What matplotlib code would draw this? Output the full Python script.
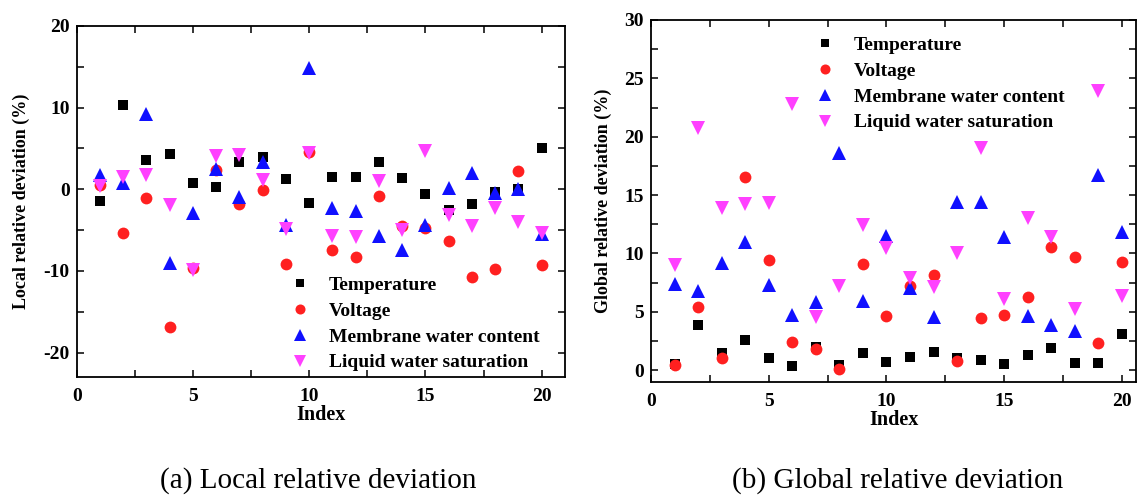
import matplotlib
matplotlib.use("Agg")
import matplotlib.pyplot as plt
from matplotlib.ticker import MultipleLocator

plt.rcParams['font.family'] = ['Liberation Serif', 'DejaVu Serif']
plt.rcParams['axes.unicode_minus'] = False

index = list(range(1, 21))
series_names = ["Temperature", "Voltage", "Membrane water content", "Liquid water saturation"]

# (a) Local relative deviation (%)
local_temperature = [-1.4, 10.3, 3.6, 4.3, 0.8, 0.3, 3.4, 4.0, 1.3, -1.7,
                     1.5, 1.5, 3.3, 1.4, -0.6, -2.5, -1.8, -0.3, 0.0, 5.1]
local_voltage = [0.5, -5.4, -1.1, -16.9, -9.6, 2.3, -1.8, -0.1, -9.2, 4.6,
                 -7.4, -8.3, -0.8, -4.5, -4.8, -6.4, -10.8, -9.8, 2.2, -9.3]
local_membrane = [1.7, 0.8, 9.2, -9.0, -2.9, 2.5, -1.0, 3.3, -4.4, 14.9,
                  -2.3, -2.7, -5.7, -7.5, -4.4, 0.1, 2.0, -0.4, 0.0, -5.5]
local_liquid = [0.4, 1.5, 1.7, -1.9, -9.9, 4.1, 4.2, 1.1, -4.9, 4.5,
                -5.7, -5.8, 1.0, -5.0, 4.7, -3.1, -4.5, -2.3, -4.0, -5.4]

# (b) Global relative deviation (%)
global_temperature = [0.5, 3.9, 1.5, 2.6, 1.0, 0.35, 1.95, 0.45, 1.5, 0.7,
                      1.15, 1.57, 1.05, 0.9, 0.5, 1.25, 1.85, 0.57, 0.57, 3.05]
global_voltage = [0.45, 5.37, 1.0, 16.57, 9.43, 2.43, 1.77, 0.1, 9.08, 4.6,
                  7.23, 8.11, 0.77, 4.49, 4.69, 6.29, 10.57, 9.69, 2.29, 9.23]
global_membrane = [7.37, 6.8, 9.14, 11.0, 7.26, 4.71, 5.8, 18.57, 5.91, 11.5,
                   7.05, 4.51, 14.42, 14.37, 11.43, 4.63, 3.86, 3.37, 16.68, 11.83]
global_liquid = [8.97, 20.71, 13.86, 14.2, 14.34, 22.77, 4.51, 7.2, 12.43, 10.48,
                 7.91, 7.09, 10.06, 19.02, 6.09, 13.0, 11.43, 5.23, 23.94, 6.34]

styles = [dict(marker='s', color='black', ms=7.5),
          dict(marker='o', color='#ff2020', ms=8.5),
          dict(marker='^', color='#1010ff', ms=9.5),
          dict(marker='v', color='#ff40ff', ms=9.5)]

W, H = 1138, 497
fig = plt.figure(figsize=(W / 100, H / 100), dpi=100)

def px_axes(x0, y0, x1, y1):
    return fig.add_axes([x0 / W, 1 - y1 / H, (x1 - x0) / W, (y1 - y0) / H])

axL = px_axes(76.7, 26, 565, 377)
axR = px_axes(651, 20, 1136, 381.7)

def draw(ax, data):
    for vals, name, st in zip(data, series_names, styles):
        ax.plot(index, vals, linestyle='none', marker=st['marker'], color=st['color'],
                markersize=st['ms'], markeredgewidth=0, label=name)

draw(axL, [local_temperature, local_voltage, local_membrane, local_liquid])
draw(axR, [global_temperature, global_voltage, global_membrane, global_liquid])

axL.set_xlim(0, 21)
axL.set_ylim(-23, 20)
axL.xaxis.set_major_locator(MultipleLocator(5))
axL.xaxis.set_minor_locator(MultipleLocator(2.5))
axL.yaxis.set_major_locator(MultipleLocator(10))
axL.yaxis.set_minor_locator(MultipleLocator(5))

axR.set_xlim(0, 20.6)
axR.set_ylim(-1, 30)
axR.xaxis.set_major_locator(MultipleLocator(5))
axR.xaxis.set_minor_locator(MultipleLocator(2.5))
axR.yaxis.set_major_locator(MultipleLocator(5))
axR.yaxis.set_minor_locator(MultipleLocator(2.5))

for ax in (axL, axR):
    for sp in ax.spines.values():
        sp.set_linewidth(1.3)
    ax.tick_params(which='both', direction='in', top=True, right=True, width=1.1,
                   labelsize=14, pad=5)
    ax.tick_params(axis='x', which='both', pad=8)
    ax.tick_params(which='major', length=5)
    ax.tick_params(which='minor', length=5)
    for lab in ax.get_xticklabels() + ax.get_yticklabels():
        lab.set_fontweight('bold')
    ax.set_xlabel('Index', fontsize=14.5, fontweight='bold', labelpad=0)

axL.set_ylabel('Local relative deviation (%)', fontsize=13, fontweight='bold', labelpad=9.5)
axR.set_ylabel('Global relative deviation (%)', fontsize=13, fontweight='bold', labelpad=9)

legkw = dict(frameon=False, prop=dict(size=14, weight='bold'), handletextpad=0.9,
             labelspacing=0.42, borderpad=0, borderaxespad=0, handlelength=1.2,
             loc='upper left', markerscale=0.85)
axL.legend(bbox_to_anchor=(288 / W, 1 - 276.5 / H), bbox_transform=fig.transFigure, **legkw)
axR.legend(bbox_to_anchor=(813 / W, 1 - 36.5 / H), bbox_transform=fig.transFigure, **legkw)

fig.text(318 / W, 1 - 481 / H, '(a) Local relative deviation', ha='center', va='center', fontsize=21)
fig.text(898 / W, 1 - 481 / H, '(b) Global relative deviation', ha='center', va='center', fontsize=21)

fig.savefig('out.png', dpi=100)
